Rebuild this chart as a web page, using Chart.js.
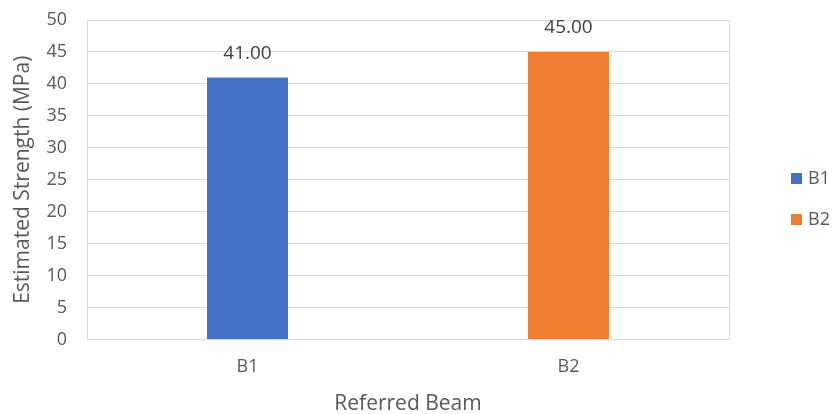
<!DOCTYPE html>
<html lang="en">
<head>
<meta charset="UTF-8">
<title>Estimated Strength by Beam</title>
<script src="https://cdn.jsdelivr.net/npm/chart.js@4.4.1/dist/chart.umd.min.js"></script>
<style>
  html, body { margin: 0; padding: 0; background: #fff; }
  #wrap { width: 835px; height: 414px; position: relative; }
</style>
</head>
<body>
<div id="wrap"><canvas id="strengthChart"></canvas></div>
<script>
// Estimated strength per referred beam
const beams = ["B1", "B2"];
const strength = [41.00, 45.00];
const beamColors = ["#4472c4", "#ed7d31"];
const yTicks = { min: 0, max: 50, step: 5 };

const FONT = "'Open Sans', 'Noto Sans', sans-serif";
const GRID = "#d9d9d9";
const TEXT = "#595959";

// value labels above each bar
const valueLabels = {
  id: "valueLabels",
  afterDatasetsDraw(chart) {
    const { ctx } = chart;
    const meta = chart.getDatasetMeta(0);
    ctx.save();
    ctx.font = "19px " + FONT;
    ctx.fillStyle = "#404040";
    ctx.textAlign = "center";
    ctx.textBaseline = "middle";
    meta.data.forEach((bar, i) => {
      ctx.fillText(strength[i].toFixed(2), bar.x, bar.y - 24);
    });
    ctx.restore();
  }
};

// legend on the right, one entry per beam
const sideLegend = {
  id: "sideLegend",
  afterDraw(chart) {
    const { ctx } = chart;
    ctx.save();
    ctx.font = "18px " + FONT;
    ctx.textAlign = "left";
    ctx.textBaseline = "middle";
    beams.forEach((name, i) => {
      const y = 178.5 + i * 41;
      ctx.fillStyle = beamColors[i];
      ctx.fillRect(791, y - 5.5, 11, 11);
      ctx.fillStyle = TEXT;
      ctx.fillText(name, 808, y);
    });
    ctx.restore();
  }
};

new Chart(document.getElementById("strengthChart"), {
  type: "bar",
  data: {
    labels: beams,
    datasets: [{
      label: "Estimated Strength",
      data: strength,
      backgroundColor: beamColors,
      categoryPercentage: 1,
      barPercentage: 0.2523,
    }]
  },
  options: {
    responsive: true,
    maintainAspectRatio: false,
    animation: false,
    layout: { padding: { top: 20, right: 106, left: 0, bottom: 0 } },
    plugins: {
      legend: { display: false },
      tooltip: { enabled: false },
    },
    scales: {
      x: {
        afterFit(scale) { scale.height = 74.5; },
        grid: {
          color: (c) => (c.index === 1 ? "transparent" : GRID),
          drawTicks: false,
        },
        border: { color: GRID },
        ticks: { color: TEXT, font: { family: FONT, size: 18 }, padding: 17 },
        title: {
          display: true,
          text: "Referred Beam",
          color: TEXT,
          font: { family: FONT, size: 21 },
          padding: { top: 0, bottom: -3 },
        },
      },
      y: {
        min: yTicks.min,
        max: yTicks.max,
        afterFit(scale) {
          scale.width = 87;
          scale.paddingTop = 0;
          scale.paddingBottom = 0;
        },
        grid: { color: GRID, drawTicks: false },
        border: { color: GRID },
        ticks: {
          stepSize: yTicks.step,
          color: TEXT,
          font: { family: FONT, size: 18 },
          padding: 20,
        },
        title: {
          display: true,
          text: "Estimated Strength (MPa)",
          color: TEXT,
          font: { family: FONT, size: 21 },
          padding: { top: 10, bottom: 0 },
        },
      },
    },
  },
  plugins: [valueLabels, sideLegend],
});
</script>
</body>
</html>
